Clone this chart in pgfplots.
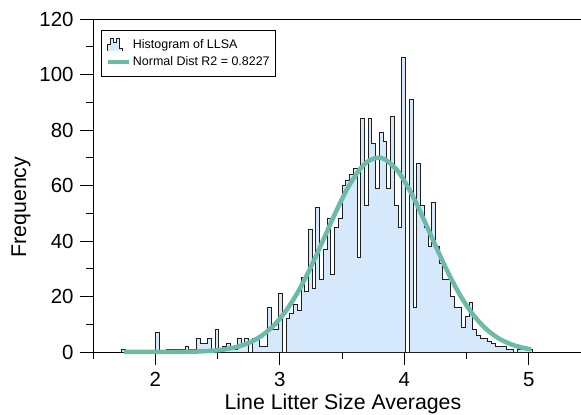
\documentclass[border=0pt]{standalone}
\usepackage{fontspec}
\setmainfont{Liberation Sans}
\usepackage{pgfplots}
\pgfplotsset{compat=1.18}
\definecolor{histfill}{HTML}{D6E8FB}
\definecolor{fitline}{HTML}{6DBAA6}
\definecolor{edge}{HTML}{1E1E1E}

% Histogram of line litter size averages: left bin edge, count (bin width 0.03)
\pgfplotstableread{
x     n
1.73  1
1.76  0
1.79  0
1.82  0
1.85  0
1.88  0
1.91  0
1.94  0
1.97  0
2.00  7
2.03  0
2.06  0
2.09  1
2.12  1
2.15  1
2.18  1
2.21  1
2.24  2
2.27  1
2.30  1
2.33  5
2.36  3
2.39  3
2.42  5
2.45  1
2.48  8
2.51  1
2.54  2
2.57  3
2.60  1
2.63  1
2.66  5
2.69  3
2.72  5
2.75  0
2.78  5
2.81  5
2.84  2
2.87  2
2.90  16
2.93  8
2.96  8
2.99  21
3.02  0
3.05  12
3.08  14
3.11  17
3.14  15
3.17  27
3.20  22
3.23  44
3.26  23
3.29  52
3.32  26
3.35  37
3.38  48
3.41  28
3.44  45
3.47  48
3.50  60
3.53  62
3.56  64
3.59  66
3.62  34
3.65  84
3.68  53
3.71  84
3.74  75
3.77  59
3.80  79
3.83  76
3.86  59
3.89  85
3.92  53
3.95  45
3.98  106
4.01  0
4.04  91
4.07  16
4.10  68
4.13  53
4.16  45
4.19  38
4.22  54
4.25  38
4.28  32
4.31  26
4.34  26
4.37  20
4.40  16
4.43  16
4.46  9
4.49  13
4.52  18
4.55  8
4.58  6
4.61  5
4.64  5
4.67  4
4.70  3
4.73  2
4.76  2
4.79  2
4.82  1
4.85  1
4.88  0
4.91  1
4.94  1
4.97  1
5.00  1
5.03  1
}\histdata

% Fitted normal curve, sampled
\pgfplotstableread{
x     y
1.75  0.0005
1.85  0.002
1.95  0.005
2.05  0.013
2.15  0.034
2.25  0.084
2.35  0.196
2.45  0.431
2.55  0.896
2.65  1.76
2.75  3.26
2.85  5.72
2.95  9.47
3.05  14.83
3.15  21.92
3.25  30.63
3.35  40.44
3.45  50.44
3.55  59.45
3.65  66.21
3.72  69.03
3.79  70.00
3.85  69.29
3.95  65.10
4.05  57.79
4.15  48.48
4.25  38.42
4.35  28.78
4.45  20.36
4.55  13.62
4.65  8.60
4.75  5.14
4.85  2.90
4.95  1.55
5.02  0.96
}\fitdata

\begin{document}
\begin{tikzpicture}
\begin{axis}[
  scale only axis,
  width=492bp, height=333bp,
  xmin=1.5, xmax=5.4518, ymin=0, ymax=120,
  xtick={2,3,4,5}, minor xtick={1.5,2.5,3.5,4.5},
  ytick={0,20,...,120}, minor ytick={10,30,...,110},
  tick pos=left, tick align=outside,
  major tick length=13bp, minor tick length=7bp,
  every tick/.style={black, line width=0.9bp},
  axis line style={black, line width=0.9bp},
  /pgf/number format/assume math mode=true,
  tick label style={font=\fontsize{20.5}{20.5}\selectfont},
  xticklabel style={yshift=-4bp},
  yticklabel style={xshift=-3bp},
  xlabel={Line Litter Size Averages},
  ylabel={Frequency},
  label style={font=\fontsize{21.4}{21.4}\selectfont},
  xlabel style={at={(axis description cs:0.508,-0.174)}, anchor=base},
  ylabel style={at={(axis description cs:-0.136,0.435)}, anchor=base},
  legend style={at={(axis description cs:0.0163,0.967)}, anchor=north west,
    font=\fontsize{12.5}{14}\selectfont, draw=black, line width=0.9bp,
    inner xsep=4bp, inner ysep=7bp, row sep=3bp},
  legend cell align=left,
  clip=false,
]
\addplot[const plot, fill=histfill, draw=edge, line width=0.8bp,
  legend image code/.code={
    \draw[fill=histfill, draw=edge, line width=0.8bp]
      (0bp,-6bp) -- (0bp,0bp) -- (3bp,0bp) -- (3bp,6bp) -- (6bp,6bp) -- (6bp,2bp)
      -- (9bp,2bp) -- (9bp,6bp) -- (12bp,6bp) -- (12bp,-4bp) -- (15bp,-4bp) -- (15bp,-6bp);
  }] table[x=x, y=n] {\histdata} \closedcycle;
\addlegendentry{Histogram of LLSA}
\addplot[fitline, line width=4.5bp, smooth,
  legend image code/.code={\draw[fitline, line width=4.5bp] (0bp,0bp) -- (21bp,0bp);}]
  table[x=x, y=y] {\fitdata};
\addlegendentry{Normal Dist R2 = 0.8227}
\coordinate (O) at (rel axis cs:0,0);
\end{axis}
\pgfresetboundingbox
\path[use as bounding box] ([xshift=-93bp, yshift=-63bp]O) rectangle ([xshift=488bp, yshift=352bp]O);
\end{tikzpicture}
\end{document}
